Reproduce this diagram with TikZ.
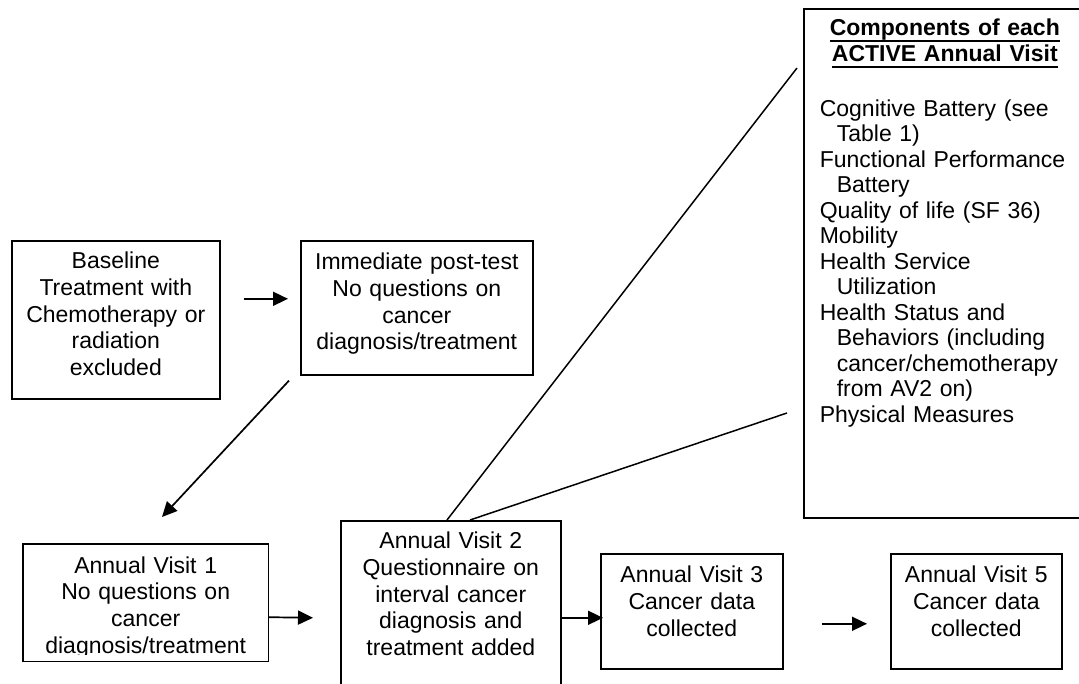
\documentclass[tikz,border=0pt]{standalone}
\usepackage{fontspec}
\setmainfont{Liberation Sans}
\usetikzlibrary{arrows.meta}
\tikzstyle{node_text} = [inner sep=0pt, align=center, font=\fontsize{23}{26.7}\selectfont]
\tikzstyle{node_box} = [node_text, draw, line width=1.6pt]
\tikzstyle{border_line} = [line width=1.6pt]
\tikzstyle{edge_arrow} = [line width=1.7pt, -{Triangle[length=15pt,width=14pt]}]
\tikzstyle{edge_plain} = [line width=1.5pt]
\newlength{\hdlen}
\newcommand{\hdline}[1]{\leavevmode\settowidth{\hdlen}{#1}\rlap{\rule[-6.5pt]{\hdlen}{2pt}}#1}
\newcommand{\compitem}[1]{\hangindent=17pt\hangafter=1 #1\par}

\begin{document}
\begin{tikzpicture}[x=1pt, y=-1pt]
		\useasboundingbox (0,0) rectangle (1079,684);
		\node (base) at (11,240) [node_box, anchor=north west, text width=208pt, text height=28pt, text depth=130pt] {Baseline\\Treatment with\\Chemotherapy or\\radiation\\excluded};
		\node (imm) at (300,240) [node_box, anchor=north west, text width=232pt, text height=29pt, text depth=105pt] {Immediate post-test\\No questions on\\cancer\\diagnosis/treatment};
		% last line of visit 1 is cut by its frame
		\begin{scope}
			\clip (0,500) rectangle (1079,654);
			\node (av1) at (23,544) [node_text, anchor=north west, text width=245pt, text height=29pt, text depth=88pt] {Annual Visit 1\\No questions on\\cancer\\diagnosis/treatment};
		\end{scope}
		\draw[border_line] (av1.north west) rectangle (av1.south east);
		\node (av2) at (340,520) [node_box, anchor=north west, text width=220pt, text height=28pt, text depth=136pt] {Annual Visit 2\\Questionnaire on\\interval cancer\\diagnosis and\\treatment added};
		\node (av3) at (600,553) [node_box, anchor=north west, text width=182pt, text height=29pt, text depth=86pt] {Annual Visit 3\\Cancer data\\collected};
		\node (av5) at (890,553) [node_box, anchor=north west, text width=171pt, text height=29pt, text depth=86pt] {Annual Visit 5\\Cancer data\\collected};
		\node (comp) at (803,8) [node_box, anchor=north west, align=left, inner xsep=16pt, text width=250pt, text height=27pt, text depth=482pt, font=\fontsize{23}{25.5}\selectfont] {%
			{\centering\bfseries\hdline{Components of each}\\\hdline{ACTIVE Annual Visit}\par}\vspace{29.5pt}
			\compitem{Cognitive Battery (see\newline Table 1)}
			\compitem{Functional Performance\newline Battery}
			\compitem{Quality of life (SF 36)}
			\compitem{Mobility}
			\compitem{Health Service\newline Utilization}
			\compitem{Health Status and\newline Behaviors (including\newline cancer/chemotherapy\newline from AV2 on)}
			\compitem{Physical Measures}};
		\coordinate (comp_top) at (797,68);
		\coordinate (comp_mid) at (787,413);
		
		\draw[edge_arrow] ([xshift=23pt,yshift=21pt]base.east) -- ([xshift=-12pt,yshift=9pt]imm.west);
		\draw[edge_arrow] ([xshift=-11pt,yshift=-5pt]imm.south west) -- ([xshift=139pt,yshift=27pt]av1.north west);
		\draw[edge_arrow] ([yshift=-14.5pt]av1.east) -- ([xshift=-27pt,yshift=-15pt]av2.west);
		\draw[edge_arrow] ([yshift=-15pt]av2.east) -- ([xshift=3pt,yshift=-6.5pt]av3.west);
		\draw[edge_arrow] ([xshift=38pt,yshift=-12.5pt]av3.east) -- ([xshift=-23pt,yshift=-12.5pt]av5.west);
		\draw[edge_plain] ([xshift=107pt]av2.north west) -- (comp_top) ([xshift=130pt]av2.north west) -- (comp_mid);
\end{tikzpicture}
\end{document}
